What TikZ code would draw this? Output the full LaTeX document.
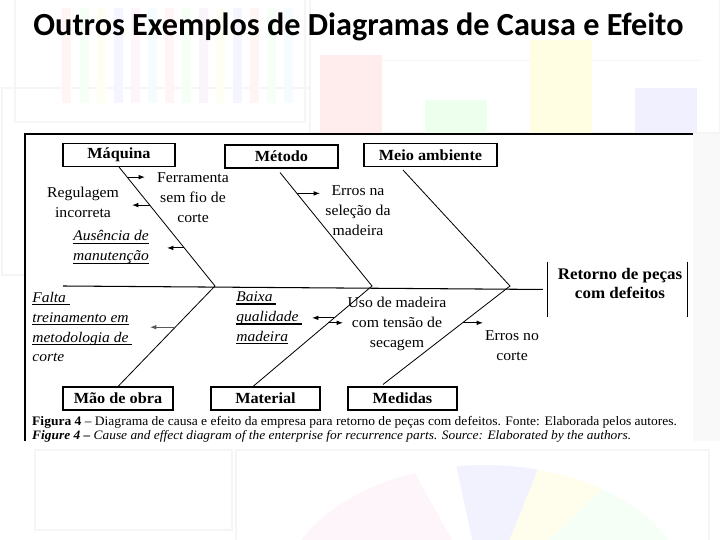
\documentclass[tikz,border=0pt]{standalone}
\usepackage{fontspec}
\setmainfont{Liberation Serif}
\newfontfamily\titlefont{Carlito}
\newfontfamily\diafont[FakeStretch=1.05]{Liberation Serif}
\newfontfamily\capfont[FakeStretch=1.04]{Liberation Serif}
\usetikzlibrary{arrows.meta, positioning, calc}
\newcommand{\undl}[1]{\setbox0\hbox{#1}\rlap{\rule[-2.8pt]{\wd0}{1pt}}\box0}

\begin{document}
\begin{tikzpicture}[x=0.03cm, y=-0.03cm,
		box/.style={draw, line width=0.9pt, font=\diafont\fontsize{13.2}{15}\selectfont\bfseries, inner sep=0pt, minimum height=0.69cm},
		cause/.style={align=center, font=\diafont\fontsize{12.8}{17}\selectfont, inner sep=1pt},
		ital/.style={align=left, anchor=west, font=\diafont\fontsize{12.6}{17}\selectfont\itshape, inner sep=1pt},
		bone/.style={line width=0.7pt},
		arr/.style={-{Latex[length=1.9mm, width=1.4mm]}, line width=0.8pt},
		faint/.style={draw=gray!8, line width=1.2pt},
		legenda/.style={anchor=base west, inner sep=0pt, font=\capfont\fontsize{11.1}{11}\selectfont}
	]
		\useasboundingbox (0,0) rectangle (720,540);
		\fill[white] (0,0) rectangle (720,540);

		% faded slide behind the figure
		\draw[faint] (15,-5) rectangle (305,122);
		\draw[faint] (2,88) rectangle (310,275);
		\foreach \x/\c in {62/red, 80/green, 97/yellow, 114/blue, 131/magenta, 148/cyan, 165/red, 182/green, 199/violet, 216/yellow, 233/blue, 250/red, 267/green, 284/cyan}
			\fill[\c!4] (\x,8) rectangle ++(9,95);
		\draw[faint] (310,-5) rectangle (720,133);
		\draw[gray!8, line width=0.8pt] (330,60) -- (700,60);
		\fill[red!7] (320,55) rectangle (382,133);
		\fill[green!7] (425,100) rectangle (487,133);
		\fill[yellow!11] (530,40) rectangle (592,133);
		\fill[blue!6] (635,88) rectangle (697,133);
		\fill[gray!5] (693,134) rectangle (720,441);
		\draw[faint] (35,450) rectangle (232,530);
		\draw[faint] (236,450) rectangle (709,560);
		\fill[magenta!4] (485,600) -- ++(180:205 and 135) arc[start angle=180, end angle=250, x radius=205, y radius=135] -- cycle;
		\fill[blue!5] (485,600) -- ++(262:205 and 135) arc[start angle=262, end angle=285, x radius=205, y radius=135] -- cycle;
		\fill[yellow!7] (485,600) -- ++(285:205 and 135) arc[start angle=285, end angle=305, x radius=205, y radius=135] -- cycle;
		\fill[green!4] (485,600) -- ++(305:205 and 135) arc[start angle=305, end angle=345, x radius=205, y radius=135] -- cycle;
		\fill[red!4] (485,600) -- ++(345:205 and 135) arc[start angle=345, end angle=360, x radius=205, y radius=135] -- cycle;

		% title
		\node[font=\titlefont\fontsize{27.5}{30}\selectfont\bfseries, anchor=base] (titulo) at (358.5,36) {Outros Exemplos de Diagramas de Causa e Efeito};

		% figure area
		\fill[white] (25,134) rectangle (693,441);
		\draw[line width=0.9pt] (25,441) -- (25,134) -- (693,134);

		% categories
		\node[box, minimum width=3.36cm] (maq) at (119,155) {Máquina};
		\node[box, minimum width=3.39cm] (met) at (281.5,156.5) {Método};
		\node[box, minimum width=3.99cm] (mei) at (430.5,155) {Meio ambiente};
		\node[box, minimum width=3.3cm] (mao) at (118,398.5) {Mão de obra};
		\node[box, minimum width=3.27cm] (mat) at (265.5,398.5) {Material};
		\node[box, minimum width=3.27cm] (med) at (402.5,398.5) {Medidas};

		% effect
		\node[minimum width=4.17cm, minimum height=1.65cm] (eff) at (617.5,289.5) {};
		\node[font=\diafont\fontsize{13.8}{17}\selectfont\bfseries, align=center] (efftxt) at (620,283.5) {Retorno de peças\\com defeitos};
		\draw[line width=0.8pt] (eff.north west) -- (eff.south west) (eff.north east) -- (eff.south east);

		% spine and bones
		\coordinate (tail) at (63,286);
		\coordinate (j1) at (215,286);
		\coordinate (j2) at (372,286);
		\coordinate (j3) at (510,286);
		\draw[line width=0.9pt, shorten >=0.15cm] (tail) -- (eff.west);
		\draw[bone] (maq.south) -- (j1) -- (mao.north);
		\draw[bone] ($(met.south)+(-1.5,4)$) -- (j2) -- ($(mat.north)+(-12.5,0)$);
		\draw[bone] ($(mei.south)+(-27.5,3)$) -- (j3) -- ($(med.north)+(-19.5,-2)$);

		% causes
		\node[cause] (fer) at (193,198) {Ferramenta\\sem fio de\\corte};
		\node[cause] (reg) at (83,202) {Regulagem\\incorreta};
		\node[ital, anchor=center, align=center] (aus) at (111,247) {\undl{Ausência de}\\\undl{manutenção}};
		\node[cause] (esm) at (358,211) {Erros na\\seleção da\\madeira};
		\node[ital] (fal) at (31,327) {\undl{Falta\ }\\\undl{treinamento em}\\\undl{metodologia de\ }\\corte};
		\node[ital] (bai) at (235,318) {\undl{Baixa\ }\\\undl{qualidade\ }\\\undl{madeira}};
		\node[cause] (uso) at (397,324) {Uso de madeira\\com tensão de\\secagem};
		\node[cause] (eco) at (512,346) {Erros no\\corte};

		% cause arrows
		\path (maq.south) -- (j1) coordinate[pos=0.085] (b1) coordinate[pos=0.32] (b2) coordinate[pos=0.68] (b3);
		\path (mao.north) -- (j1) coordinate[pos=0.59] (b4);
		\path ($(met.south)+(-1.5,4)$) -- (j2) coordinate[pos=0.184] (b5);
		\path ($(mat.north)+(-12.5,0)$) -- (j2) coordinate[pos=0.683] (b6) coordinate[pos=0.634] (b7);
		\path ($(med.north)+(-19.5,-2)$) -- (j3) coordinate[pos=0.626] (b8);
		\coordinate (h1) at (145,0);
		\coordinate (h2) at (132,0);
		\coordinate (h3) at (167,0);
		\coordinate (h4) at (150,0);
		\coordinate (h5) at (320,0);
		\coordinate (h6) at (312,0);
		\coordinate (h7) at (343,0);
		\coordinate (h8) at (483,0);
		\draw[arr] (b1) -- (b1 -| h1);
		\draw[arr] (b2) -- (b2 -| h2);
		\draw[arr] (b3) -- (b3 -| h3);
		\draw[arr, gray!70!black] (b4) -- (b4 -| h4);
		\draw[arr] (b5) -- (b5 -| h5);
		\draw[arr] (b6) -- (b6 -| h6);
		\draw[arr] (b7) -- (b7 -| h7);
		\draw[arr] (b8) -- (b8 -| h8);

		% caption
		\node[legenda] (leg1) at (32,425.5) {\textbf{Figura 4} – Diagrama de causa e efeito da empresa para retorno de peças com defeitos. Fonte: Elaborada pelos autores.};
		\node[legenda, font=\capfont\fontsize{11}{11}\selectfont\itshape] (leg2) at (32,439.5) {\textbf{Figure 4 –} Cause and effect diagram of the enterprise for recurrence parts. Source: Elaborated by the authors.};
	\end{tikzpicture}
\end{document}
